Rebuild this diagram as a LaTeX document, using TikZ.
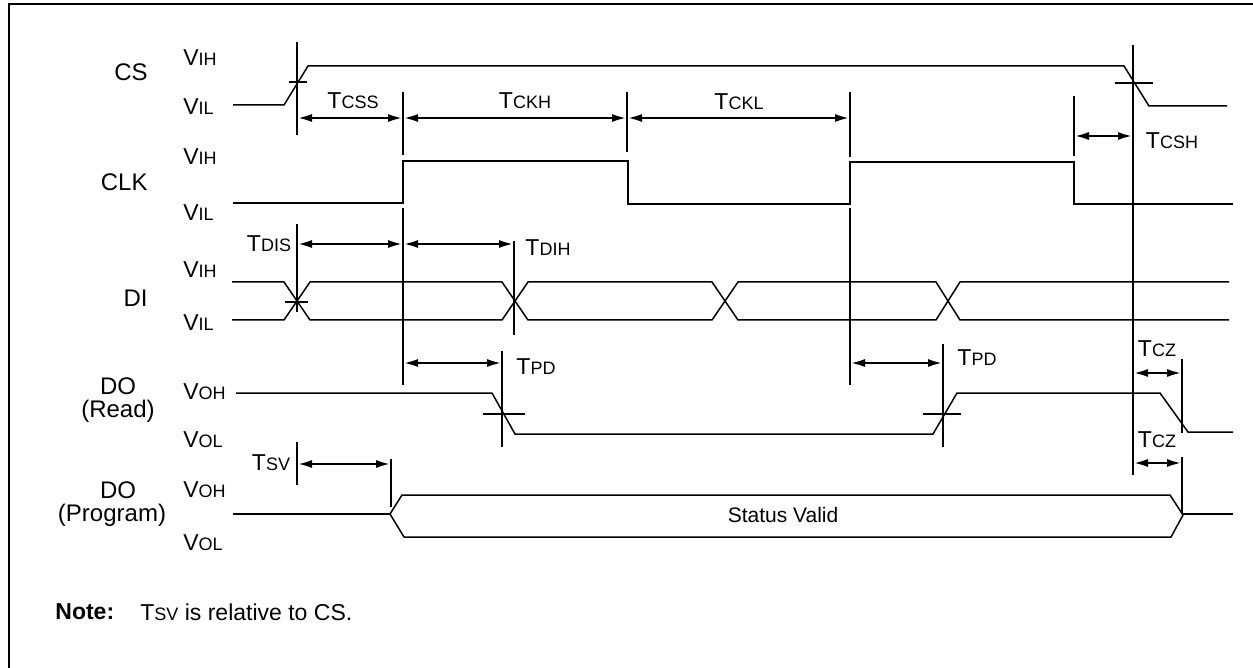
\documentclass[tikz,border=0pt]{standalone}
\usepackage{fontspec}
\setmainfont{Liberation Sans}
\usetikzlibrary{arrows.meta}
\newcommand\TS[2]{#1{\fontsize{9}{10}\selectfont #2}}
\begin{document}
\begin{tikzpicture}[x=0.5pt,y=-0.5pt,
  thinw/.style={line width=0.75pt},
  thickw/.style={line width=1.3pt},
  marker/.style={line width=1.3pt},
  dim/.style={line width=1.3pt,{Latex[length=7.5pt,width=4pt]}-{Latex[length=7.5pt,width=4pt]}},
  lbl/.style={font=\fontsize{11.5}{13}\selectfont, inner sep=0pt},
  nlbl/.style={font=\fontsize{12}{14}\selectfont, inner sep=0pt},
  vlbl/.style={lbl, anchor=west},
  slbl/.style={nlbl, anchor=east},
  tlbl/.style={lbl}]
\useasboundingbox (0,0) rectangle (1253,668);
% frame
\draw[line width=1.2pt] (9,668) -- (9,4) -- (1253,4);

% signal names
\node[slbl] (ncs) at (148,72) {CS};
\node[slbl] (nclk) at (148,182) {CLK};
\node[slbl] (ndi) at (148,298) {DI};
\node[nlbl] (ndo1) at (118,386) {DO};
\node[nlbl] (nrd) at (118,411) {(Read)};
\node[nlbl] (ndo2) at (118,490) {DO};
\node[nlbl] (npg) at (112,515) {(Program)};

% level labels
\node[vlbl] (v1) at (183,58) {\TS{V}{IH}};
\node[vlbl] (v2) at (183,107) {\TS{V}{IL}};
\node[vlbl] (v3) at (183,157) {\TS{V}{IH}};
\node[vlbl] (v4) at (183,213) {\TS{V}{IL}};
\node[vlbl] (v5) at (183,270) {\TS{V}{IH}};
\node[vlbl] (v6) at (183,323) {\TS{V}{IL}};
\node[vlbl] (v7) at (183,392) {\TS{V}{OH}};
\node[vlbl] (v8) at (183,440) {\TS{V}{OL}};
\node[vlbl] (v9) at (183,490) {\TS{V}{OH}};
\node[vlbl] (v10) at (183,543) {\TS{V}{OL}};

% CS
\draw[thinw] (233,105) -- (284,105) -- (308,66) -- (1124,66) -- (1149,106) -- (1227,106);
\draw[marker] (297,42) -- (297,135);
\draw[marker] (289,82) -- (307,82);
\draw[marker] (1133,45) -- (1133,475);
\draw[marker] (1115,83) -- (1153,83);

% CLK
\draw[thickw] (233,203) -- (403,203) -- (403,161) -- (628,161) -- (628,204) -- (850,204) -- (850,162) -- (1074,162) -- (1074,204) -- (1233,204);
\draw[marker] (403,92) -- (403,155);
\draw[marker] (403,208) -- (403,385);
\draw[marker] (627,92) -- (627,152);
\draw[marker] (850,92) -- (850,157);
\draw[marker] (850,208) -- (850,385);
\draw[marker] (1074,96) -- (1074,156);
\draw[dim] (297,118) -- (403,118);
\draw[dim] (403,118) -- (627,118);
\draw[dim] (627,118) -- (850,118);
\draw[dim] (1074,136) -- (1133,136);
\node[tlbl] (tcss) at (353,101) {\TS{T}{CSS}};
\node[tlbl] (tckh) at (525,101) {\TS{T}{CKH}};
\node[tlbl] (tckl) at (739,102) {\TS{T}{CKL}};
\node[tlbl] (tcsh) at (1172,141) {\TS{T}{CSH}};

% DI
\draw[thinw] (232,282) -- (284,282) -- (310,320) -- (502,320) -- (528,282) -- (712,282) -- (738,320) -- (936,320) -- (960,282) -- (1229,282);
\draw[thinw] (232,320) -- (284,320) -- (310,282) -- (502,282) -- (528,320) -- (712,320) -- (738,282) -- (936,282) -- (960,320) -- (1229,320);
\draw[marker] (297,224) -- (297,312);
\draw[marker] (285,302) -- (308,302);
\draw[marker] (514,241) -- (514,335);
\draw[dim] (297,244) -- (403,244);
\draw[dim] (403,244) -- (514,244);
\node[tlbl] (tdis) at (269,244) {\TS{T}{DIS}};
\node[tlbl] (tdih) at (548,248) {\TS{T}{DIH}};

% DO (Read)
\draw[thinw] (236,393) -- (492,393) -- (515,434) -- (933,434) -- (957,393) -- (1160,393) -- (1188,432) -- (1233,432);
\draw[marker] (502,351) -- (502,447);
\draw[marker] (483,414) -- (525,414);
\draw[marker] (943,344) -- (943,447);
\draw[marker] (923,414) -- (961,414);
\draw[marker] (1182,359) -- (1182,433);
\draw[dim] (403,363) -- (502,363);
\draw[dim] (850,363) -- (943,363);
\draw[dim] (1133,373) -- (1182,373);
\node[tlbl] (tpd1) at (536,367) {\TS{T}{PD}};
\node[tlbl] (tpd2) at (977,358) {\TS{T}{PD}};
\node[tlbl] (tcz1) at (1157,349) {\TS{T}{CZ}};
\node[tlbl] (tcz2) at (1157,440) {\TS{T}{CZ}};

% DO (Program)
\draw[thickw] (233,514) -- (390,514);
\draw[thinw] (390,514) -- (402,495) -- (1170,495) -- (1183,515) -- (1171,537) -- (404,537) -- cycle;
\draw[thickw] (1183,514) -- (1233,514);
\draw[marker] (297,442) -- (297,485);
\draw[marker] (391,459) -- (391,507);
\draw[marker] (1182,457) -- (1182,513);
\draw[dim] (297,464) -- (391,464);
\draw[dim] (1133,463) -- (1182,463);
\node[tlbl] (tsv) at (271,463) {\TS{T}{SV}};
\node[lbl, font=\fontsize{10.5}{12}\selectfont] (sv) at (783,515) {Status Valid};

% note
\node[lbl, anchor=west, font=\fontsize{11.5}{13}\selectfont\bfseries] (note) at (55,612) {Note:};
\node[lbl, anchor=west] (notet) at (140,612) {\TS{T}{SV} is relative to CS.};
\end{tikzpicture}
\end{document}
